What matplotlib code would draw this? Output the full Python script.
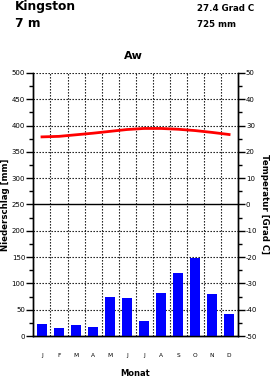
import matplotlib
matplotlib.use("Agg")
import matplotlib.pyplot as plt
import numpy as np

plt.rcParams['font.family'] = ['DejaVu Sans']
plt.rcParams['axes.unicode_minus'] = False

# Klimadaten Kingston
monate = ['J', 'F', 'M', 'A', 'M', 'J', 'J', 'A', 'S', 'O', 'N', 'D']
niederschlag = [23, 16, 21, 18, 75, 73, 29, 82, 119, 149, 79, 41]
temperatur = [25.7, 25.9, 26.5, 27.1, 27.8, 28.5, 28.9, 28.9, 28.6, 28.1, 27.4, 26.6]
station = 'Kingston'
hoehe = '7 m'
mittel_temp = '27.4 Grad C'
summe_ns = '725 mm'
klima = 'Aw'

fig = plt.figure(figsize=(2.7, 3.78), dpi=100)
ax = fig.add_axes([0.124, 0.111, 0.756, 0.696])
ax2 = ax.twinx()

x = np.arange(len(monate))
ax.bar(x, niederschlag, width=0.62, color='#0000ff', zorder=3)
ax2.plot(x, temperatur, color='#ff0000', lw=2, zorder=4)

ax.set_xlim(-0.5, 11.5)
ax.set_ylim(0, 500)
ax2.set_ylim(-50, 50)

# Gitter
for v in np.arange(50, 501, 50):
    if v == 250:
        ax.axhline(v, color='black', lw=1, zorder=2)
    else:
        ax.axhline(v, color='black', lw=0.8, ls=(0, (1.2, 1.5)), zorder=2)
for b in np.arange(0.5, 11.5, 1):
    ax.axvline(b, color='black', lw=0.8, ls=(0, (1.2, 1.5)), zorder=2)

for a in (ax, ax2):
    a.spines['top'].set_visible(False)
    a.spines['left'].set_linewidth(1)
    a.spines['right'].set_linewidth(1)
    a.spines['bottom'].set_linewidth(1)

ax.set_yticks(np.arange(0, 501, 50))
ax.set_yticks(np.arange(0, 501, 25), minor=True)
ax2.set_yticks(np.arange(-50, 51, 10))
ax2.set_yticks(np.arange(-50, 51, 5), minor=True)
ax.tick_params(axis='y', which='major', length=5, width=1, labelsize=5, pad=1)
ax.tick_params(axis='y', which='minor', length=3, width=1)
ax2.tick_params(axis='y', which='major', length=5, width=1, labelsize=5, pad=1)
ax2.tick_params(axis='y', which='minor', length=3, width=1)

ax.set_xticks(x)
ax.set_xticklabels(monate, fontsize=4.2)
ax.tick_params(axis='x', length=0, pad=12)

ax.set_ylabel('Niederschlag [mm]', fontsize=6.2, fontweight='bold', ha='center', va='center')
ax.yaxis.set_label_coords(-0.135, 0.5)
ax2.set_ylabel('Temperatur [Grad C]', fontsize=6.2, fontweight='bold', rotation=-90,
               ha='center', va='center')
ax2.yaxis.set_label_coords(1.13, 0.5)

fig.text(135/270, 1 - 376/378, 'Monat', fontsize=6, fontweight='bold', ha='center', va='baseline')

fig.text(15/270, 1 - 10/378, station, fontsize=8.8, fontweight='bold', va='baseline')
fig.text(15/270, 1 - 27/378, hoehe, fontsize=8.8, fontweight='bold', va='baseline')
fig.text(197/270, 1 - 11/378, mittel_temp, fontsize=6.2, fontweight='bold', va='baseline')
fig.text(197/270, 1 - 27/378, summe_ns, fontsize=6.2, fontweight='bold', va='baseline')
fig.text(133/270, 1 - 59/378, klima, fontsize=8, fontweight='bold', ha='center', va='baseline')

fig.savefig('out.png', dpi=100)
